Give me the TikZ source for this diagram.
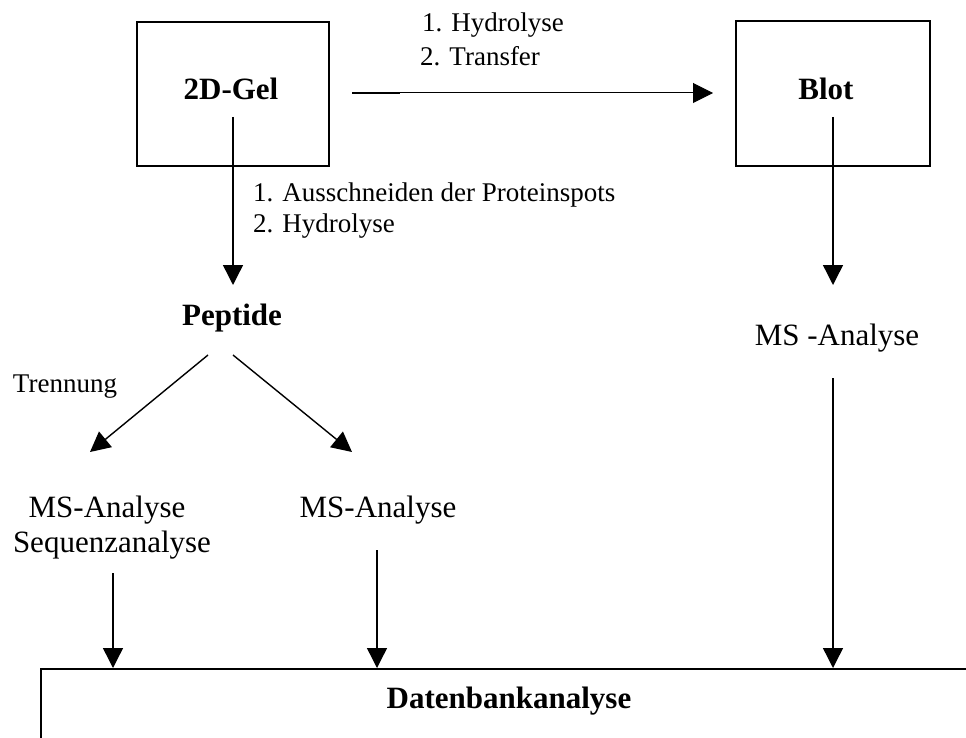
\documentclass[tikz,border=0pt]{standalone}
\usepackage{fontspec}
\setmainfont{Liberation Serif}
\usetikzlibrary{arrows.meta}
\begin{document}
\begin{tikzpicture}[x=1pt,y=-1pt,
  lbl/.style={inner sep=0pt, anchor=base west, font=\fontsize{27}{32}\selectfont},
  big/.style={inner sep=0pt, anchor=base, font=\fontsize{31}{35}\selectfont},
  bold/.style={inner sep=0pt, anchor=base, font=\fontsize{31}{35}\selectfont\bfseries},
  boxline/.style={draw, line width=1.6pt},
  arr/.style={line width=1.4pt, -{Triangle[width=20pt,length=20pt]}}]
\useasboundingbox (0,0) rectangle (966,738);
% boxes
\node[boxline, minimum width=192pt, minimum height=144pt, inner sep=0pt] (gelbox) at (233,94) {};
\node[boxline, minimum width=194pt, minimum height=145pt, inner sep=0pt] (blotbox) at (833,93.5) {};
% texts
\node[bold] (gel) at (231,100) {2D-Gel};
\node[bold] (blot) at (826,100) {Blot};
\node[bold] (pep) at (232,325) {Peptide};
\node[big] (msr) at (837,345) {MS -Analyse};
\node[lbl, anchor=base] (trenn) at (65,392) {Trennung};
\node[big] (msl1) at (107,517) {MS-Analyse};
\node[big] (msl2) at (112,552) {Sequenzanalyse};
\node[big] (msm) at (378,517) {MS-Analyse};
\node[lbl] (h1) at (422,32) {1. Hydrolyse};
\node[lbl] (h2) at (420,66) {2. Transfer};
\node[lbl] (a1) at (253,202) {1. Ausschneiden der Proteinspots};
\node[lbl] (a2) at (253,233) {2. Hydrolyse};
\node[bold] (db) at (509,708) {Datenbankanalyse};
% connector ends
\coordinate (t0) at (352,93);
\coordinate (t1) at (400,93);
\coordinate (t2) at (713,93);
\coordinate (g0) at (233,117);
\coordinate (g1) at (233,285);
\coordinate (b0) at (833,117);
\coordinate (b1) at (833,285);
\coordinate (p0) at (208,355);
\coordinate (p1) at (90,452);
\coordinate (q0) at (233,355);
\coordinate (q1) at (352,452);
\coordinate (l0) at (113,573);
\coordinate (l1) at (113,668);
\coordinate (m0) at (377,550);
\coordinate (m1) at (377,668);
\coordinate (r0) at (833,378);
\coordinate (r1) at (833,668);
\coordinate (d0) at (41,738);
\coordinate (d1) at (41,669);
\coordinate (d2) at (966,669);
% connectors
\draw[line width=2pt] (t0) -- (t1);
\draw[line width=1pt, -{Triangle[width=20pt,length=20pt]}] (t1) -- (t2);
\draw[arr] (g0) -- (g1);
\draw[arr] (b0) -- (b1);
\draw[arr] (p0) -- (p1);
\draw[arr] (q0) -- (q1);
\draw[arr] (l0) -- (l1);
\draw[arr] (m0) -- (m1);
\draw[arr] (r0) -- (r1);
\draw[line width=2pt] (d0) -- (d1) -- (d2);
\end{tikzpicture}
\end{document}
